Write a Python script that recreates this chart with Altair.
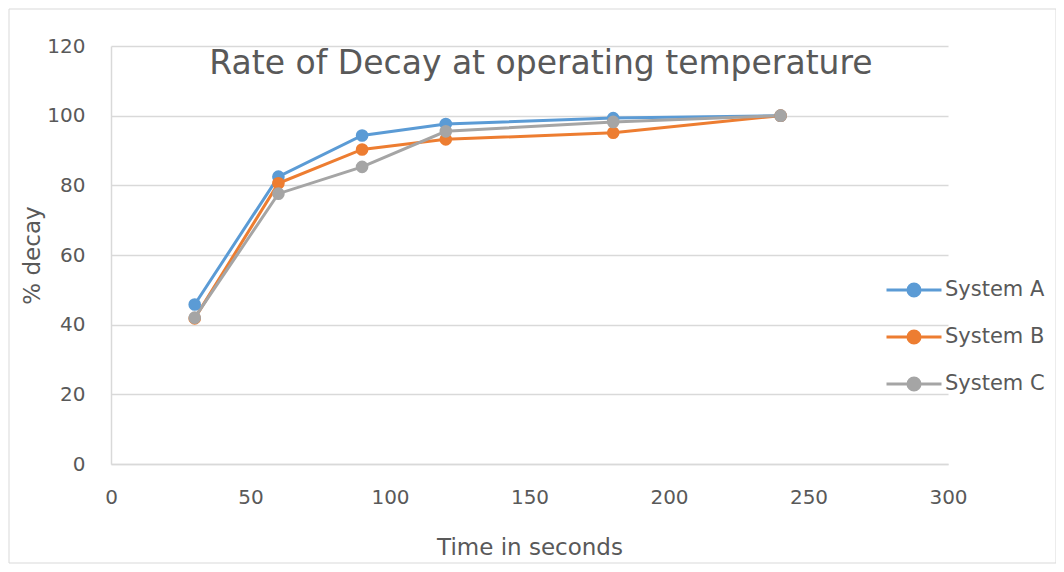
import altair as alt
import pandas as pd

time_s = [30, 60, 90, 120, 180, 240]
system_a = [45.8, 82.5, 94.3, 97.6, 99.3, 100]
system_b = [41.8, 80.6, 90.3, 93.2, 95.1, 100]
system_c = [42.0, 77.6, 85.3, 95.5, 98.2, 100]
series_names = ["System A", "System B", "System C"]
series_colors = ["#5B9BD5", "#ED7D31", "#A5A5A5"]
chart_title = ["Rate of Decay at operating temperature"]

rows = []
for name, vals in zip(series_names, [system_a, system_b, system_c]):
    for t, v in zip(time_s, vals):
        rows.append({"time": t, "decay": v, "series": name})
df = pd.DataFrame(rows)

FONT = "DejaVu Sans"
GRAY = "#595959"


def ring(r):
    return f"M{-r},0A{r},{r} 0 1,1 {r},0A{r},{r} 0 1,1 {-r},0"


legend_path = "M-1,0L1,0" + "".join(ring(r) for r in [0.22, 0.16, 0.10, 0.05, 0.01])

color = alt.Color(
    "series:N",
    scale=alt.Scale(domain=series_names, range=series_colors),
    legend=alt.Legend(
        title=None,
        orient="none",
        legendX=774,
        legendY=215,
        symbolType=legend_path,
        symbolSize=3025,
        symbolStrokeWidth=3,
        labelFontSize=21,
        labelFont=FONT,
        labelColor=GRAY,
        labelOffset=2,
        rowPadding=5,
        symbolOffset=0,
    ),
)

x = alt.X(
    "time:Q",
    scale=alt.Scale(domain=[0, 300], nice=False),
    axis=alt.Axis(
        values=[0, 50, 100, 150, 200, 250, 300],
        title="Time in seconds",
        titleFontSize=23,
        titleFontWeight="normal",
        titleFont=FONT,
        titleColor=GRAY,
        titlePadding=29,
        labelFontSize=20,
        labelFont=FONT,
        labelColor=GRAY,
        labelPadding=23,
        labelFlush=False,
        ticks=False,
        grid=False,
        domainColor="#D9D9D9",
        domainWidth=1.5,
    ),
)
y = alt.Y(
    "decay:Q",
    scale=alt.Scale(domain=[0, 120], nice=False),
    axis=alt.Axis(
        values=[0, 20, 40, 60, 80, 100, 120],
        title="% decay",
        titleFontSize=23,
        titleFontWeight="normal",
        titleFont=FONT,
        titleColor=GRAY,
        titlePadding=2,
        labelFontSize=20,
        labelFont=FONT,
        labelColor=GRAY,
        labelPadding=26,
        labelFlush=False,
        ticks=False,
        grid=True,
        gridColor="#D9D9D9",
        gridWidth=1.5,
        domainColor="#D9D9D9",
        domainWidth=1.5,
    ),
)

lines = alt.Chart(df).mark_line(strokeWidth=3).encode(x=x, y=y, color=color, detail="series:N")
points = alt.Chart(df).mark_point(filled=True, size=160, opacity=1, shape="circle").encode(
    x="time:Q", y="decay:Q", color=alt.Color("series:N", legend=None)
)

title = alt.Chart(pd.DataFrame({"t": chart_title})).mark_text(
    font=FONT, fontSize=33, color=GRAY, align="center", baseline="middle"
).encode(text="t:N", x=alt.value(430), y=alt.value(18))

border = alt.Chart(pd.DataFrame({"a": [0]})).mark_rect(
    fill=None, stroke="#D9D9D9", strokeWidth=1, clip=False
).encode(
    x=alt.value(-102), x2=alt.value(945), y=alt.value(-37), y2=alt.value(517)
)

chart = (
    alt.layer(border, lines, points, title)
    .properties(
        width=837,
        height=418,
        autosize=alt.AutoSizeParams(type="none"),
        padding={"left": 103, "top": 38, "right": 108, "bottom": 100},
    )
    .configure_view(stroke=None)
)

chart.save("out.html", embed_options={"renderer": "svg", "actions": False})
